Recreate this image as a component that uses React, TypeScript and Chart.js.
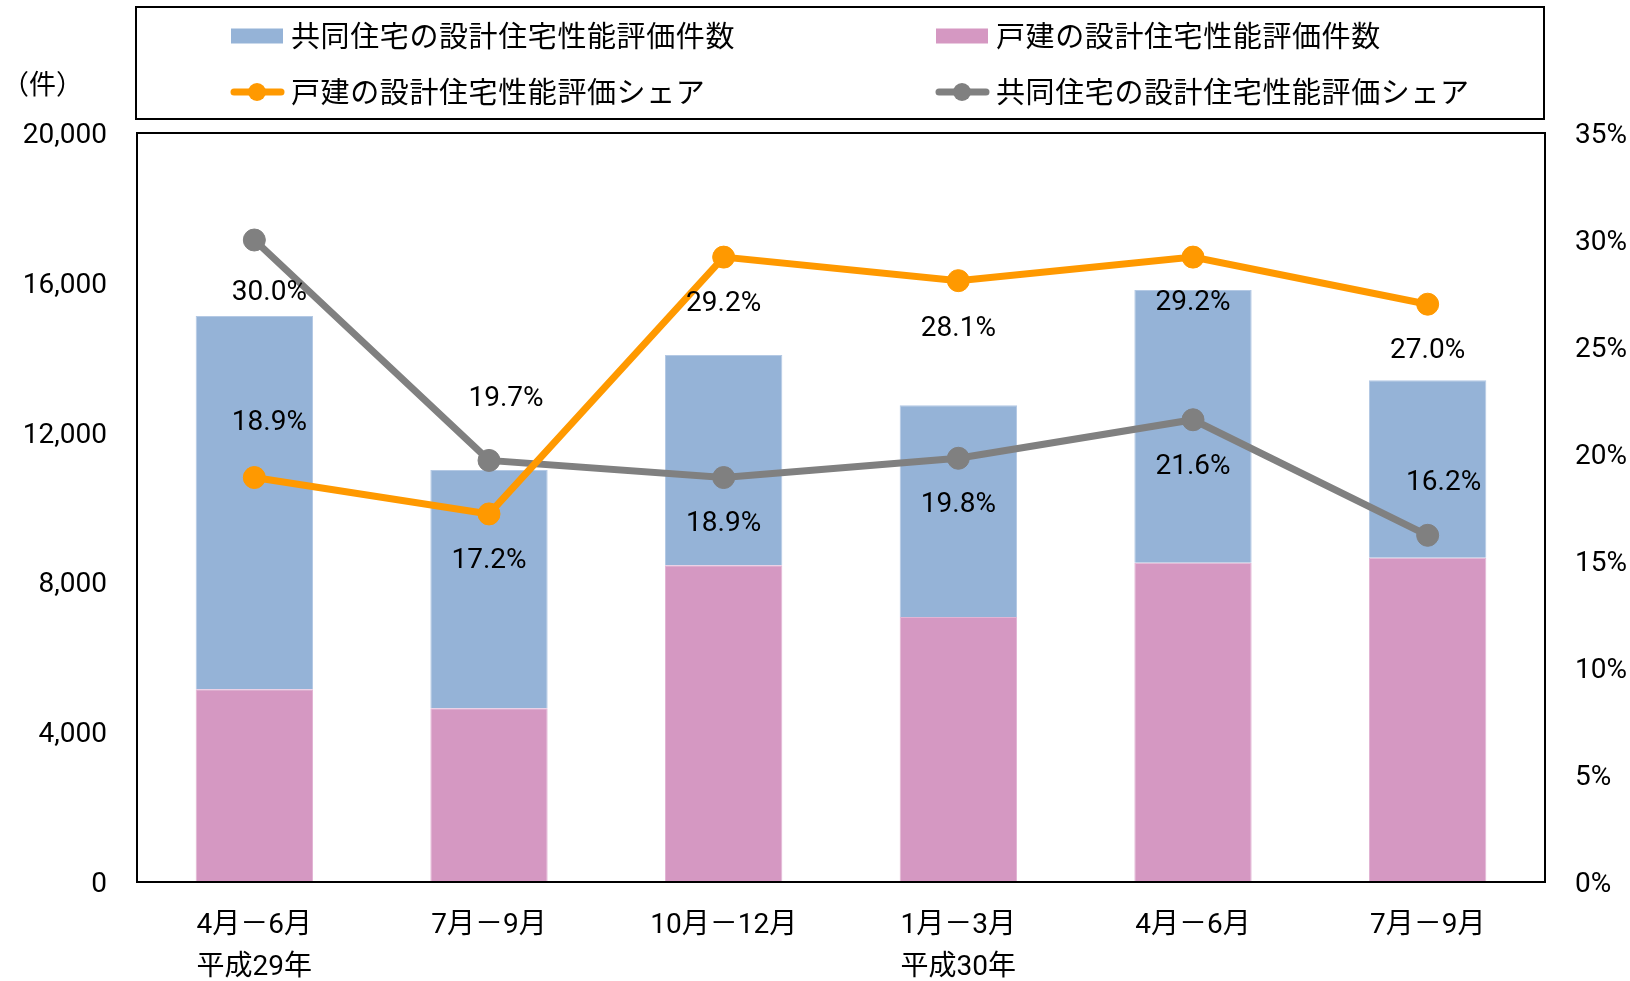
import React, { useEffect, useRef } from 'react';
import { Chart, registerables } from 'chart.js';

Chart.register(...registerables);

// ---- data ----
const categories: string[][] = [
  ['4月－6月', '平成29年'],
  ['7月－9月'],
  ['10月－12月'],
  ['1月－3月', '平成30年'],
  ['4月－6月'],
  ['7月－9月'],
];
const collectiveCounts = [9968, 6363, 5616, 5653, 7282, 4737]; // 共同住宅の設計住宅性能評価件数
const detachedCounts = [5146, 4638, 8456, 7076, 8526, 8660]; // 戸建の設計住宅性能評価件数
const detachedShare = [18.9, 17.2, 29.2, 28.1, 29.2, 27.0]; // 戸建の設計住宅性能評価シェア (%)
const collectiveShare = [30.0, 19.7, 18.9, 19.8, 21.6, 16.2]; // 共同住宅の設計住宅性能評価シェア (%)

const countAxisMax = 20000;
const countAxisStep = 4000;
const shareAxisMax = 35;
const shareAxisStep = 5;

const legendLabels = [
  '共同住宅の設計住宅性能評価件数',
  '戸建の設計住宅性能評価件数',
  '戸建の設計住宅性能評価シェア',
  '共同住宅の設計住宅性能評価シェア',
];

// ---- styles ----
const BLUE = '#95B3D7';
const PINK = '#D598C2';
const ORANGE = '#FF9900';
const GREY = '#808080';
const NUM_FONT = 'Roboto, "Noto Sans CJK JP", sans-serif';
const JP_FONT = '"Noto Sans CJK JP", sans-serif';

// label offsets [dx, dy] from each point
const detachedLabelOffsets = [[15, -55], [0, 47], [0, 47], [0, 48], [0, 46], [0, 47]];
const collectiveLabelOffsets = [[15, 53], [17, -61], [0, 46], [0, 47], [0, 47], [16, -52]];

const decorPlugin = {
  id: 'decor',
  afterDraw(chart: any) {
    const ctx = chart.ctx as CanvasRenderingContext2D;
    const a = chart.chartArea;
    ctx.save();

    // plot frame
    ctx.strokeStyle = '#000';
    ctx.lineWidth = 2;
    ctx.strokeRect(a.left, a.top, a.right - a.left, a.bottom - a.top);

    // legend frame
    ctx.strokeRect(a.left - 1, 7, a.right - a.left, 112);

    // legend items
    const ds = chart.data.datasets;
    const items = [
      { text: legendLabels[0], color: ds[3].backgroundColor, kind: 'box' },
      { text: legendLabels[1], color: ds[2].backgroundColor, kind: 'box' },
      { text: legendLabels[2], color: ds[0].borderColor, kind: 'line' },
      { text: legendLabels[3], color: ds[1].borderColor, kind: 'line' },
    ];
    const colX = [231, 936];
    const rowY = [36, 92];
    items.forEach((it, i) => {
      const x = colX[i % 2];
      const y = rowY[Math.floor(i / 2)];
      if (it.kind === 'box') {
        ctx.fillStyle = it.color;
        ctx.fillRect(x, y - 7.5, 52, 15);
      } else {
        ctx.strokeStyle = it.color;
        ctx.lineWidth = 7;
        ctx.lineCap = 'round';
        ctx.beginPath();
        ctx.moveTo(x + 3, y);
        ctx.lineTo(x + 50, y);
        ctx.stroke();
        ctx.fillStyle = it.color;
        ctx.beginPath();
        ctx.arc(x + 26, y, 9, 0, Math.PI * 2);
        ctx.fill();
      }
      ctx.fillStyle = '#000';
      ctx.font = '29px ' + JP_FONT;
      (ctx as any).letterSpacing = '0.6px';
      ctx.textAlign = 'left';
      ctx.textBaseline = 'middle';
      ctx.fillText(it.text, x + 60, y);
      (ctx as any).letterSpacing = '0px';
    });

    // unit label
    ctx.font = '27px ' + JP_FONT;
    ctx.fillStyle = '#000';
    ctx.textAlign = 'left';
    ctx.textBaseline = 'middle';
    ctx.fillText('（件）', 2, 84);

    // data labels
    ctx.font = '28px ' + NUM_FONT;
    ctx.textAlign = 'center';
    ctx.textBaseline = 'middle';
    const drawLabels = (dsIndex: number, values: number[], offsets: number[][]) => {
      const meta = chart.getDatasetMeta(dsIndex);
      meta.data.forEach((pt: any, j: number) => {
        const [dx, dy] = offsets[j];
        ctx.fillText(values[j].toFixed(1) + '%', pt.x + dx, pt.y + dy);
      });
    };
    drawLabels(0, detachedShare, detachedLabelOffsets);
    drawLabels(1, collectiveShare, collectiveLabelOffsets);

    ctx.restore();
  },
};

export default function App() {
  const canvasRef = useRef<HTMLCanvasElement | null>(null);

  useEffect(() => {
    document.body.style.margin = '0';
    const canvas = canvasRef.current;
    if (!canvas) return;
    const chart = new Chart(canvas, {
      type: 'bar',
      data: {
        labels: categories as any,
        datasets: [
          {
            type: 'line',
            label: legendLabels[2],
            data: detachedShare,
            yAxisID: 'y1',
            borderColor: ORANGE,
            backgroundColor: ORANGE,
            borderWidth: 7,
            pointRadius: 11,
            pointBorderWidth: 1,
            pointBackgroundColor: ORANGE,
            pointBorderColor: ORANGE,
            tension: 0,
            order: 0,
          } as any,
          {
            type: 'line',
            label: legendLabels[3],
            data: collectiveShare,
            yAxisID: 'y1',
            borderColor: GREY,
            backgroundColor: GREY,
            borderWidth: 7,
            pointRadius: 11,
            pointBorderWidth: 1,
            pointBackgroundColor: GREY,
            pointBorderColor: GREY,
            tension: 0,
            order: 1,
          } as any,
          {
            type: 'bar',
            label: legendLabels[1],
            data: detachedCounts,
            yAxisID: 'y',
            backgroundColor: PINK,
            borderColor: '#E2B4D4',
            borderWidth: 1,
            barPercentage: 0.5,
            categoryPercentage: 1.0,
            stack: 'counts',
            order: 2,
          } as any,
          {
            type: 'bar',
            label: legendLabels[0],
            data: collectiveCounts,
            yAxisID: 'y',
            backgroundColor: BLUE,
            borderColor: '#B4C9E4',
            borderWidth: 1,
            barPercentage: 0.5,
            categoryPercentage: 1.0,
            stack: 'counts',
            order: 3,
          } as any,
        ],
      },
      options: {
        responsive: false,
        animation: false,
        layout: { padding: { top: 133, left: 0, right: 0, bottom: 0 } },
        plugins: {
          legend: { display: false },
          tooltip: { enabled: false },
          title: { display: false },
        },
        scales: {
          x: {
            stacked: true,
            offset: true,
            grid: { display: false, drawTicks: false },
            border: { display: false },
            ticks: {
              color: '#000',
              padding: 23,
              maxRotation: 0,
              autoSkip: false,
              font: { family: NUM_FONT, size: 28, lineHeight: 1.5 },
            },
            afterFit: (s: any) => { s.height = 99; },
          },
          y: {
            stacked: true,
            position: 'left',
            min: 0,
            max: countAxisMax,
            grid: { display: false, drawTicks: false },
            border: { display: false },
            ticks: {
              stepSize: countAxisStep,
              color: '#000',
              padding: 30,
              labelOffset: 3,
              font: { family: NUM_FONT, size: 28 },
              callback: (v: any) => Number(v).toLocaleString('en-US'),
            },
            afterFit: (s: any) => { s.width = 137; },
          },
          y1: {
            position: 'right',
            min: 0,
            max: shareAxisMax,
            grid: { display: false, drawTicks: false },
            border: { display: false },
            ticks: {
              stepSize: shareAxisStep,
              color: '#000',
              padding: 30,
              labelOffset: 3,
              font: { family: NUM_FONT, size: 28 },
              callback: (v: any) => v + '%',
            },
            afterFit: (s: any) => { s.width = 85; },
          },
        },
      } as any,
      plugins: [decorPlugin],
    });
    return () => chart.destroy();
  }, []);

  return (
    <div style={{ width: 1630, height: 981 }}>
      <canvas ref={canvasRef} width={1630} height={981} style={{ display: 'block' }} />
    </div>
  );
}
